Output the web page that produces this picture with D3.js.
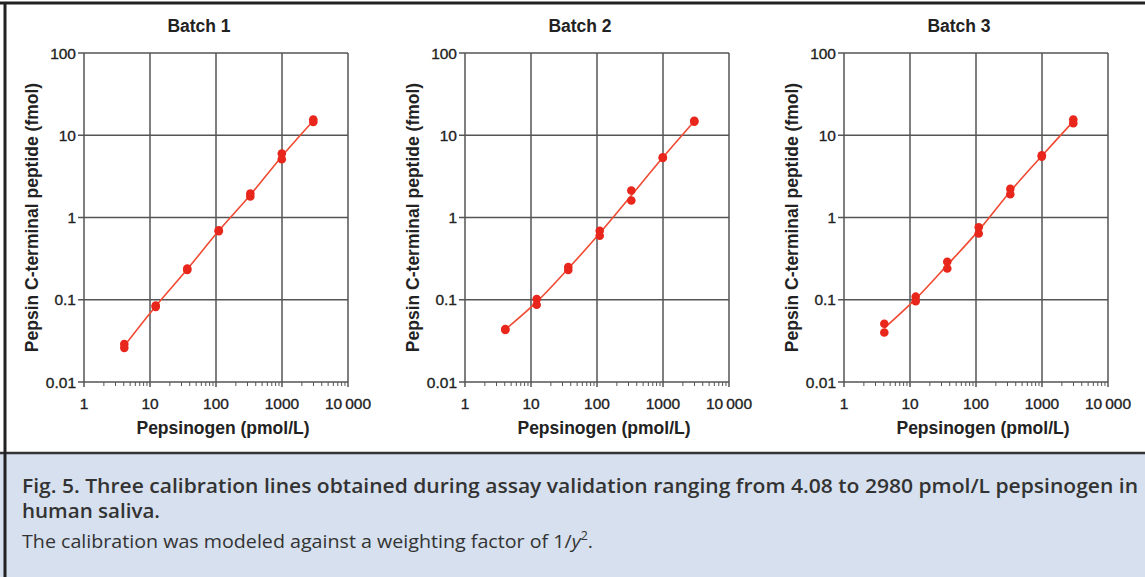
<!DOCTYPE html>
<html>
<head>
<meta charset="utf-8">
<script src="https://d3js.org/d3.v7.min.js"></script>
<style>
  body { margin: 0; background: #fff; }
  svg text { font-family: "Liberation Sans", Arial, sans-serif; fill: #222; }
  .tick-label { font-size: 15.5px; fill: #222; stroke: #222; stroke-width: 0.35px; }
  .axis-title { font-size: 17.5px; font-weight: bold; }
  .caption { font-family: "Open Sans", sans-serif; font-size: 19px; fill: #333; }
</style>
</head>
<body>
<svg id="chart" width="1145" height="577"></svg>
<script>
"use strict"

// concentrations of the calibration standards (pmol/L)
const concentrations = [4.08, 12.2, 36.7, 110, 331, 993, 2980]

// two replicate measurements per standard (fmol)
const batch1 = [[0.029, 0.026], [0.085, 0.082], [0.24, 0.23], [0.70, 0.68], [1.96, 1.80], [6.0, 5.1], [15.5, 14.5]]
const batch2 = [[0.044, 0.043], [0.102, 0.087], [0.25, 0.23], [0.69, 0.60], [2.13, 1.61], [5.4, 5.3], [15.0, 14.6]]
const batch3 = [[0.051, 0.040], [0.109, 0.096], [0.29, 0.24], [0.76, 0.64], [2.24, 1.92], [5.7, 5.5], [15.5, 14.0]]

const batchNames = ["Batch 1", "Batch 2", "Batch 3"]
const xTicks = [1, 10, 100, 1000, 10000]
const xTickLabels = ["1", "10", "100", "1000", "10\u2009000"]
const yTicks = [0.01, 0.1, 1, 10, 100]
const yTickLabels = ["0.01", "0.1", "1", "10", "100"]

const svg = d3.select("#chart")

// caption box
svg.append("rect").attr("x", 0).attr("y", 454).attr("width", 1145).attr("height", 123).attr("fill", "#d6e0ee")
svg.append("line").attr("x1", 0).attr("x2", 1145).attr("y1", 453).attr("y2", 453).attr("stroke", "#333").attr("stroke-width", 2.5)
svg.append("line").attr("x1", 0).attr("x2", 1145).attr("y1", 3).attr("y2", 3).attr("stroke", "#222").attr("stroke-width", 3)
svg.append("line").attr("x1", 5).attr("x2", 5).attr("y1", 2).attr("y2", 577).attr("stroke", "#222").attr("stroke-width", 3)

const panels = [
  {left: 84, data: batch1},
  {left: 465, data: batch2},
  {left: 844, data: batch3}
]
const plotW = 264, plotTop = 53, plotBottom = 382

panels.forEach((p, i) => {
  const x = d3.scaleLog().domain([1, 10000]).range([p.left, p.left + plotW])
  const y = d3.scaleLog().domain([0.01, 100]).range([plotBottom, plotTop])
  const g = svg.append("g")

  // grid + frame
  g.selectAll("line.vgrid").data(xTicks).enter().append("line")
    .attr("x1", d => x(d)).attr("x2", d => x(d))
    .attr("y1", plotTop).attr("y2", plotBottom + 5)
    .attr("stroke", "#555").attr("stroke-width", 1.5)
  g.selectAll("line.hgrid").data(yTicks).enter().append("line")
    .attr("x1", p.left - 6).attr("x2", p.left + plotW)
    .attr("y1", d => y(d)).attr("y2", d => y(d))
    .attr("stroke", "#555").attr("stroke-width", 1.5)

  // minor ticks on the x axis
  const minor = []
  xTicks.slice(0, -1).forEach(t => { for (let k = 2; k <= 9; k++) minor.push(t * k) })
  g.selectAll("line.minor").data(minor).enter().append("line")
    .attr("x1", d => x(d)).attr("x2", d => x(d))
    .attr("y1", plotBottom).attr("y2", plotBottom + 4)
    .attr("stroke", "#555").attr("stroke-width", 1)

  // tick labels
  g.selectAll("text.xt").data(xTicks).enter().append("text")
    .attr("class", "tick-label")
    .attr("x", d => x(d)).attr("y", 409)
    .attr("text-anchor", "middle")
    .text((d, j) => xTickLabels[j])
  g.selectAll("text.yt").data(yTicks).enter().append("text")
    .attr("class", "tick-label")
    .attr("x", p.left - 8).attr("y", d => y(d) + 5.5)
    .attr("text-anchor", "end")
    .text((d, j) => yTickLabels[j])

  // titles
  g.append("text").attr("class", "axis-title")
    .attr("x", p.left + plotW / 2 - 17).attr("y", 32)
    .attr("text-anchor", "middle").text(batchNames[i])
  g.append("text").attr("class", "axis-title")
    .attr("x", p.left + plotW / 2 + 7).attr("y", 434)
    .attr("text-anchor", "middle").text("Pepsinogen (pmol/L)")
  g.append("text").attr("class", "axis-title")
    .attr("transform", "translate(" + (p.left - 46) + "," + ((plotTop + plotBottom) / 2) + ") rotate(-90)")
    .attr("text-anchor", "middle").text("Pepsin C-terminal peptide (fmol)")

  // calibration curve through replicate means
  const curve = concentrations.map((c, j) => [c, Math.sqrt(p.data[j][0] * p.data[j][1])])
  g.append("path").datum(curve)
    .attr("fill", "none").attr("stroke", "#f04a32").attr("stroke-width", 1.6)
    .attr("d", d3.line().x(d => x(d[0])).y(d => y(d[1])).curve(d3.curveCatmullRom))

  const pts = []
  concentrations.forEach((c, j) => p.data[j].forEach(v => pts.push([c, v])))
  g.selectAll("circle").data(pts).enter().append("circle")
    .attr("cx", d => x(d[0])).attr("cy", d => y(d[1])).attr("r", 4.3)
    .attr("fill", "#e8261c")
})

// caption
svg.append("text").attr("class", "caption").attr("x", 22).attr("y", 493)
  .attr("font-weight", 600).attr("textLength", 1116).attr("lengthAdjust", "spacingAndGlyphs")
  .text("Fig. 5. Three calibration lines obtained during assay validation ranging from 4.08 to 2980 pmol/L pepsinogen in")
svg.append("text").attr("class", "caption").attr("x", 22).attr("y", 518)
  .attr("font-weight", 600).attr("textLength", 138).attr("lengthAdjust", "spacingAndGlyphs")
  .text("human saliva.")
const cap3 = svg.append("text").attr("class", "caption").attr("x", 22).attr("y", 548)
  .attr("textLength", 571).attr("lengthAdjust", "spacingAndGlyphs")
cap3.append("tspan").text("The calibration was modeled against a weighting factor of 1/")
cap3.append("tspan").attr("font-style", "italic").text("y")
cap3.append("tspan").attr("font-size", "12px").attr("dy", -8).text("2")
cap3.append("tspan").attr("dy", 8).text(".")
</script>
</body>
</html>
